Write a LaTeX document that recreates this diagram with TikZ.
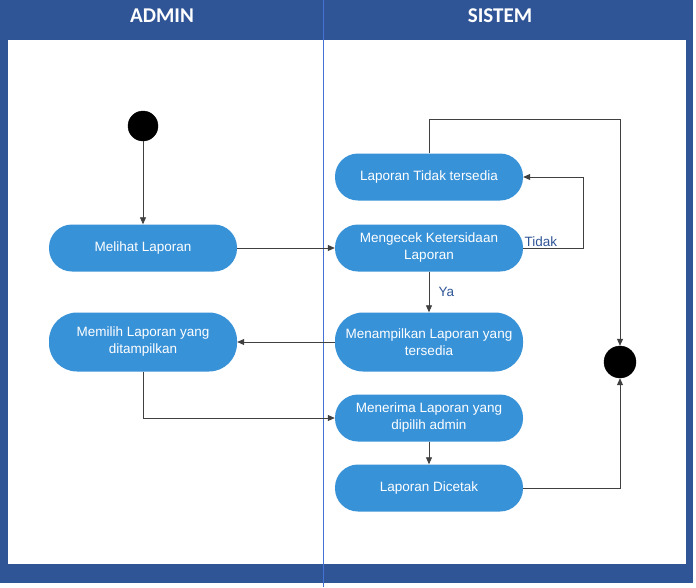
\documentclass[tikz,border=0pt]{standalone}
\usepackage{fontspec}
\setmainfont{Liberation Sans}
\newfontfamily\judulfont{Carlito}
\usepackage{tikz}
\usetikzlibrary{positioning}
\usetikzlibrary{arrows.meta}
\definecolor{pita}{RGB}{47,85,151}
\definecolor{biru}{RGB}{56,146,216}
\definecolor{garis}{RGB}{64,64,64}
\definecolor{pemisah}{RGB}{68,114,210}
\tikzset{	x=1pt, y=-1pt,
	aktivitas/.style={
		fill=biru,
		text=white,
		rounded corners=23pt,
		minimum width=188pt,
		minimum height=47pt,
		align=center,
		font=\fontsize{13.5}{17}\selectfont},
	bulat/.style={
		circle,
		fill=black,
		draw=black,
		minimum size=30pt},
	judul/.style={
		text=white,
		font=\judulfont\bfseries\fontsize{21}{24}\selectfont},
	alur/.style={
		draw=garis,
		line width=0.8pt,
		-{Triangle[length=7pt,width=6pt]}},
	ket/.style={
		text=pita,
		font=\fontsize{13.5}{15}\selectfont}
}

\begin{document}
\begin{tikzpicture}
					\useasboundingbox (0,0) rectangle (696,587);
					% kerangka swimlane
					\fill[pita] (0,0) rectangle (693,583);
					\fill[white] (8,40) rectangle (686,564);
					\draw[pemisah, line width=0.8pt] (323,0) -- (323,587);
					\node[judul] (admin) at (162,16) {ADMIN};
					\node[judul] (sistem) at (500,16) {SISTEM};
					% aktivitas
					\node[bulat] (mulai) at (143,126) {};
					\node[aktivitas] (melihat) at (143,248) {Melihat Laporan};
					\node[aktivitas, minimum height=59pt, rounded corners=28pt] (memilih) at (143,342) {Memilih Laporan yang\\ditampilkan};
					\node[aktivitas] (tidak) at (429,177) {Laporan Tidak tersedia};
					\node[aktivitas] (mengecek) at (429,248) {Mengecek Ketersidaan\\Laporan};
					\node[aktivitas, minimum height=59pt, rounded corners=28pt] (menampilkan) at (429,342) {Menampilkan Laporan yang\\tersedia};
					\node[aktivitas] (menerima) at (429,418) {Menerima Laporan yang\\dipilih admin};
					\node[aktivitas] (dicetak) at (429,488) {Laporan Dicetak};
					\node[bulat, minimum size=32pt] (akhir) at (620,362) {};
					% alur
					\draw[alur] (mulai) -- (melihat);
					\draw[alur] (melihat) -- (mengecek);
					\draw[alur] (mengecek.east) node[ket, anchor=south west, inner sep=1pt] {Tidak} -- ++(60,0) |- (tidak.east);
					\draw[alur] (tidak.north) -- ++(0,-34) -| (akhir.north);
					\draw[alur] (mengecek) -- node[ket, right=6pt] {Ya} (menampilkan);
					\draw[alur] (menampilkan) -- (memilih);
					\draw[alur] (memilih.south) |- (menerima.west);
					\draw[alur] (menerima) -- (dicetak);
					\draw[alur] (dicetak.east) -| (akhir.south);
				\end{tikzpicture}
\end{document}
